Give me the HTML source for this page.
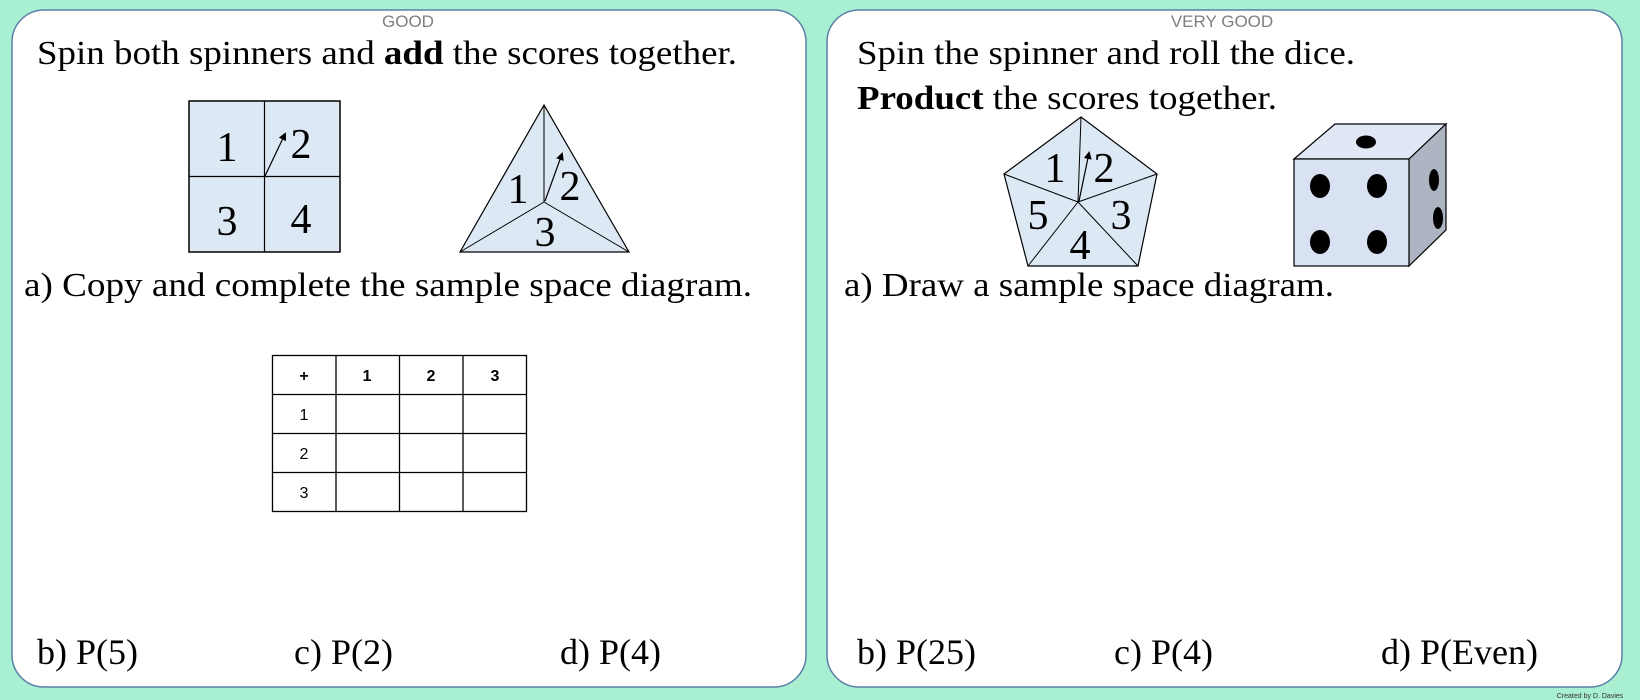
<!DOCTYPE html>
<html><head><meta charset="utf-8"><style>
html,body{margin:0;padding:0;background:#a9efd1;}
svg{display:block}
.t{font-family:"Liberation Serif",serif;font-size:34px;fill:#000}
.b{font-family:"Liberation Serif",serif;font-size:36px;fill:#000}
.n{font-family:"Liberation Serif",serif;font-size:42px;fill:#000}
.h{font-family:"Liberation Sans",sans-serif;font-size:17px;fill:#7f7f7f}
.tb{font-family:"Liberation Sans",sans-serif;font-size:16px;fill:#000}
</style></head><body>
<svg width="1640" height="700" viewBox="0 0 1640 700" xmlns="http://www.w3.org/2000/svg">
<defs><marker id="ar" markerWidth="8" markerHeight="8" refX="6" refY="4" orient="auto" markerUnits="userSpaceOnUse"><path d="M0,0 L8,4 L0,8 Z" fill="#000"/></marker></defs>
<rect x="0" y="0" width="1640" height="700" fill="#a9efd1"/>
<rect x="12" y="10" width="794" height="677" rx="32" fill="#fff" stroke="#5a7fa8" stroke-width="1.5"/>
<rect x="827" y="10" width="795" height="677" rx="32" fill="#fff" stroke="#5a7fa8" stroke-width="1.5"/>
<text x="408" y="27" class="h" text-anchor="middle">GOOD</text>
<text x="1222" y="27" class="h" text-anchor="middle">VERY GOOD</text>
<text x="37" y="64" class="t" textLength="700" lengthAdjust="spacingAndGlyphs">Spin both spinners and <tspan font-weight="bold">add</tspan> the scores together.</text>
<rect x="189" y="101" width="151" height="151" fill="#dde8f5" stroke="#000" stroke-width="1.5"/>
<line x1="264.5" y1="101" x2="264.5" y2="252" stroke="#000" stroke-width="1.2"/>
<line x1="189" y1="176.5" x2="340" y2="176.5" stroke="#000" stroke-width="1.2"/>
<text x="227" y="161" class="n" text-anchor="middle">1</text>
<text x="301" y="158" class="n" text-anchor="middle">2</text>
<text x="227" y="235" class="n" text-anchor="middle">3</text>
<text x="301" y="233" class="n" text-anchor="middle">4</text>
<line x1="265" y1="176" x2="285" y2="134" stroke="#000" stroke-width="1.2" marker-end="url(#ar)"/>
<polygon points="544,105 460,252 629,252" fill="#dde8f5" stroke="#000" stroke-width="1.2"/>
<line x1="544" y1="105" x2="544" y2="202" stroke="#000" stroke-width="1"/>
<line x1="460" y1="252" x2="544" y2="202" stroke="#000" stroke-width="1"/>
<line x1="629" y1="252" x2="544" y2="202" stroke="#000" stroke-width="1"/>
<text x="518" y="203" class="n" text-anchor="middle">1</text>
<text x="570" y="200" class="n" text-anchor="middle">2</text>
<text x="545" y="246" class="n" text-anchor="middle">3</text>
<line x1="545" y1="201" x2="562" y2="154" stroke="#000" stroke-width="1.2" marker-end="url(#ar)"/>
<text x="24" y="296" class="t" textLength="728" lengthAdjust="spacingAndGlyphs">a) Copy and complete the sample space diagram.</text>
<g stroke="#000" stroke-width="1.3" fill="none">
<rect x="272.5" y="355.5" width="254" height="156"/>
<line x1="336" y1="355" x2="336" y2="512"/><line x1="399.5" y1="355" x2="399.5" y2="512"/><line x1="463" y1="355" x2="463" y2="512"/>
<line x1="272" y1="394.5" x2="527" y2="394.5"/><line x1="272" y1="433.5" x2="527" y2="433.5"/><line x1="272" y1="472.5" x2="527" y2="472.5"/>
</g>
<g class="tb" text-anchor="middle">
<text x="304" y="381" font-weight="bold">+</text><text x="367" y="381" font-weight="bold">1</text><text x="431" y="381" font-weight="bold">2</text><text x="495" y="381" font-weight="bold">3</text>
<text x="304" y="420">1</text><text x="304" y="459">2</text><text x="304" y="498">3</text>
</g>
<text x="37" y="664" class="b">b) P(5)</text>
<text x="294" y="664" class="b">c) P(2)</text>
<text x="560" y="664" class="b">d) P(4)</text>
<text x="857" y="64" class="t" textLength="498" lengthAdjust="spacingAndGlyphs">Spin the spinner and roll the dice.</text>
<text x="857" y="109" class="t" textLength="420" lengthAdjust="spacingAndGlyphs"><tspan font-weight="bold">Product</tspan> the scores together.</text>
<polygon points="1081,117 1157,174 1138,266 1028,266 1004,174" fill="#dde8f5" stroke="#000" stroke-width="1.2"/>
<g stroke="#000" stroke-width="1">
<line x1="1078" y1="202" x2="1081" y2="117"/><line x1="1078" y1="202" x2="1157" y2="174"/><line x1="1078" y1="202" x2="1138" y2="266"/><line x1="1078" y1="202" x2="1028" y2="266"/><line x1="1078" y1="202" x2="1004" y2="174"/>
</g>
<text x="1055" y="182" class="n" text-anchor="middle">1</text>
<text x="1104" y="182" class="n" text-anchor="middle">2</text>
<text x="1038" y="229" class="n" text-anchor="middle">5</text>
<text x="1121" y="229" class="n" text-anchor="middle">3</text>
<text x="1080" y="259" class="n" text-anchor="middle">4</text>
<line x1="1079" y1="201" x2="1089" y2="153" stroke="#000" stroke-width="1.2" marker-end="url(#ar)"/>
<polygon points="1294,159 1335,124 1446,124 1409,159" fill="#e1e8f5" stroke="#000" stroke-width="1.2"/>
<polygon points="1409,159 1446,124 1446,230 1409,266" fill="#adb4c2" stroke="#000" stroke-width="1.2"/>
<rect x="1294" y="159" width="115" height="107" fill="#d9e2f2" stroke="#000" stroke-width="1.2"/>
<ellipse cx="1366" cy="142" rx="10" ry="6.5"/>
<ellipse cx="1320" cy="186" rx="10" ry="12"/><ellipse cx="1377" cy="186" rx="10" ry="12"/>
<ellipse cx="1320" cy="242" rx="10" ry="12"/><ellipse cx="1377" cy="242" rx="10" ry="12"/>
<ellipse cx="1434" cy="180" rx="5" ry="11"/><ellipse cx="1438" cy="218" rx="5" ry="11"/>
<text x="844" y="296" class="t" textLength="490" lengthAdjust="spacingAndGlyphs">a) Draw a sample space diagram.</text>
<text x="857" y="664" class="b">b) P(25)</text>
<text x="1114" y="664" class="b">c) P(4)</text>
<text x="1381" y="664" class="b">d) P(Even)</text>
<text x="1590" y="698" font-family="Liberation Sans, sans-serif" font-size="7" fill="#333" text-anchor="middle">Created by D. Davies</text>
</svg>
</body></html>
